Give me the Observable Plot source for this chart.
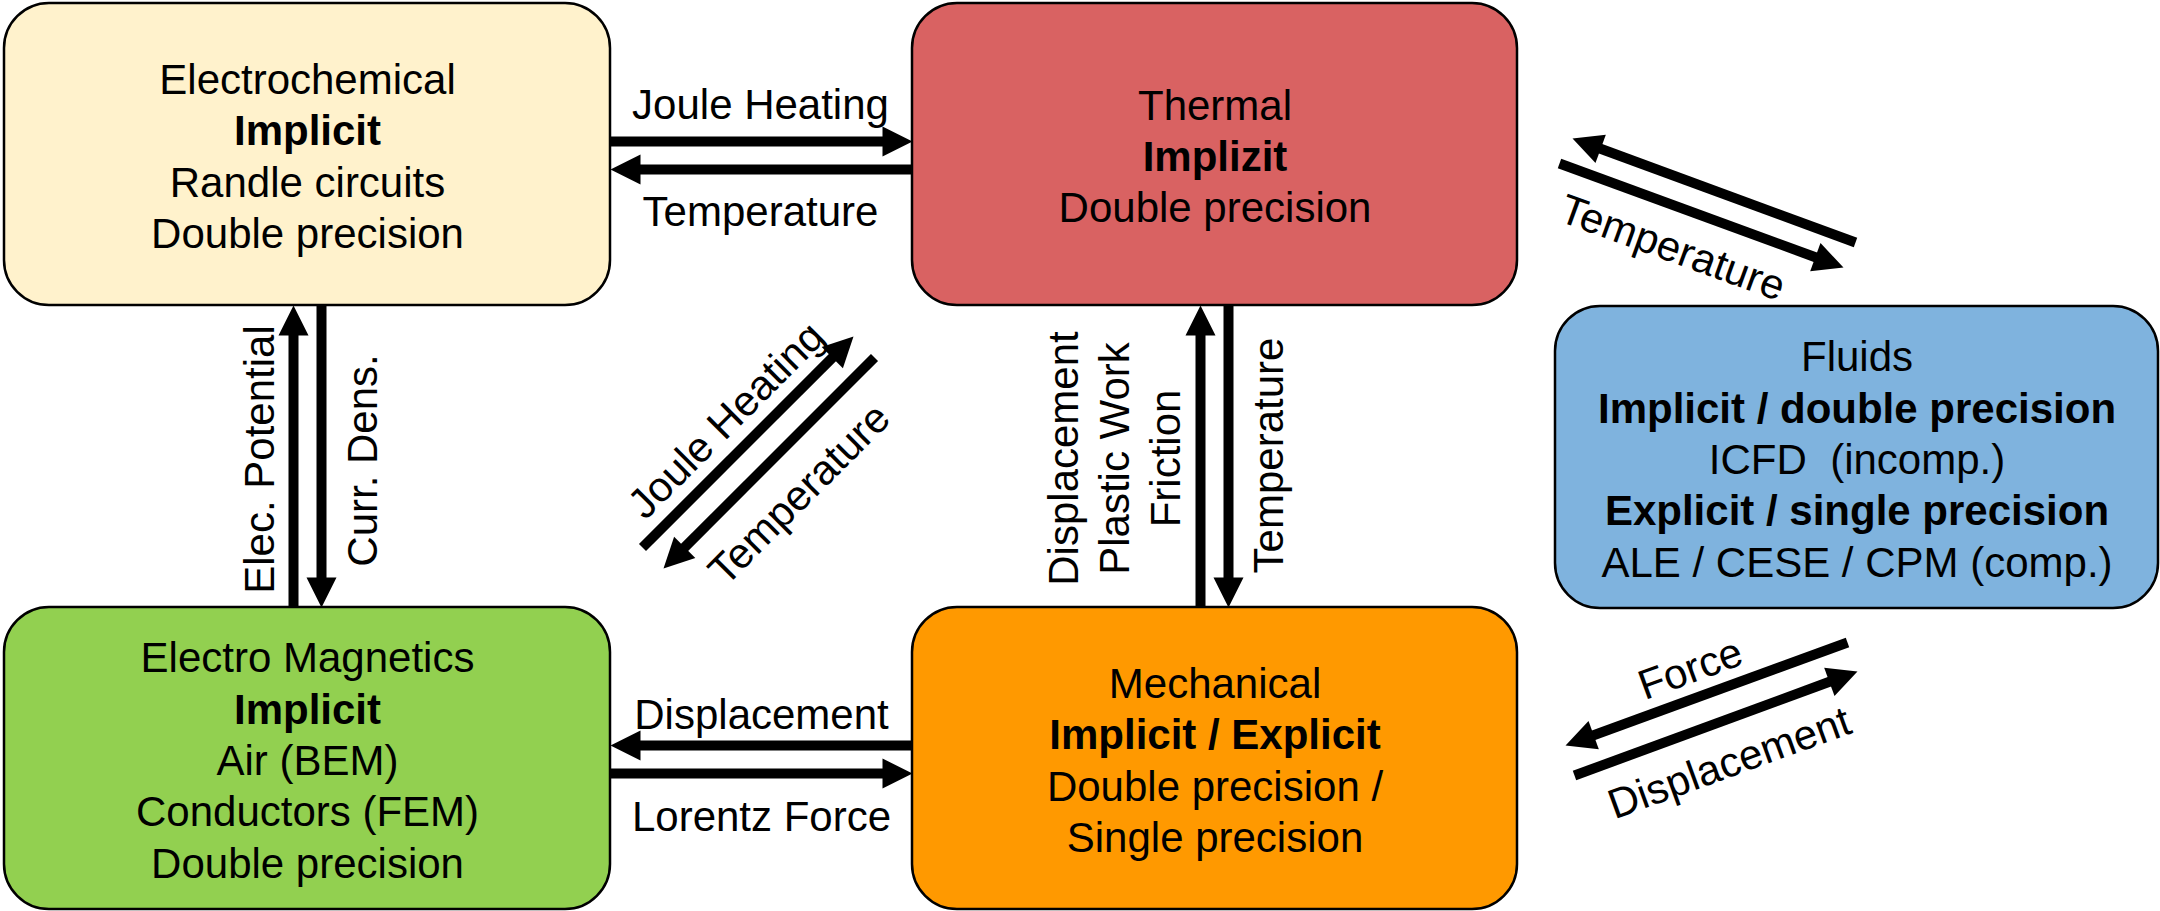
<!DOCTYPE html>
<html>
<head>
<meta charset="utf-8">
<script src="https://cdn.jsdelivr.net/npm/d3@7"></script>
<script src="https://cdn.jsdelivr.net/npm/@observablehq/plot@0.6"></script>
<style>
  html, body { margin: 0; padding: 0; background: #ffffff; }
  svg { display: block; }
</style>
</head>
<body>
<div id="chart"></div>
<script>
// ---------------- data ----------------
const boxIds = ["Electrochemical", "Thermal", "Fluids", "Electro Magnetics", "Mechanical"];

const electrochemicalLines = ["Electrochemical", "Implicit", "Randle circuits", "Double precision"];
const electrochemicalBold  = [0, 1, 0, 0];
const thermalLines = ["Thermal", "Implizit", "Double precision"];
const thermalBold  = [0, 1, 0];
const fluidsLines = ["Fluids", "Implicit / double precision", "ICFD  (incomp.)", "Explicit / single precision", "ALE / CESE / CPM (comp.)"];
const fluidsBold  = [0, 1, 0, 1, 0];
const emLines = ["Electro Magnetics", "Implicit", "Air (BEM)", "Conductors (FEM)", "Double precision"];
const emBold  = [0, 1, 0, 0, 0];
const mechanicalLines = ["Mechanical", "Implicit / Explicit", "Double precision /", "Single precision"];
const mechanicalBold  = [0, 1, 0, 0];

const couplingFrom = ["Electrochemical", "Thermal", "Mechanical", "Electro Magnetics",
  "Electro Magnetics", "Electrochemical", "Mechanical", "Thermal",
  "Electro Magnetics", "Thermal", "Fluids", "Thermal", "Fluids", "Mechanical"];
const couplingTo = ["Thermal", "Electrochemical", "Electro Magnetics", "Mechanical",
  "Electrochemical", "Electro Magnetics", "Thermal", "Mechanical",
  "Thermal", "Electro Magnetics", "Thermal", "Fluids", "Mechanical", "Fluids"];
const couplingLabels = ["Joule Heating", "Temperature", "Displacement", "Lorentz Force",
  "Elec. Potential", "Curr. Dens.", "Displacement\nPlastic Work\nFriction", "Temperature",
  "Joule Heating", "Temperature", "", "Temperature", "Force", "Displacement"];

// ---------------- layout (diagram coordinates) ----------------
const W = 2160, H = 911;
const boxLeft   = [4, 912, 1555, 4, 912];
const boxRight  = [610, 1517, 2158, 610, 1517];
const boxTop    = [3, 3, 306, 607, 607];
const boxBottom = [305, 305, 608, 909, 909];
const boxFill   = ["#fff2cc", "#d96262", "#7fb3de", "#92d050", "#ff9900"];

const arrowX1 = [610, 912, 912, 610, 293, 321, 1200, 1228, 642, 874, 1855, 1559, 1847, 1574];
const arrowY1 = [141, 169, 745, 773, 607, 305, 607, 305, 547, 357, 242, 163, 642, 775];
const arrowX2 = [912, 610, 610, 912, 293, 321, 1200, 1228, 853, 663, 1572, 1843, 1565, 1857];
const arrowY2 = [141, 169, 745, 773, 305, 607, 305, 607, 336, 568, 138, 267, 745, 671];

const labelX = [760, 760, 761, 761, 257, 360, 1112, 1266, 724, 797, 0, 1673, 1689, 1728];
const labelY = [102, 209, 712, 814, 459, 460, 458, 455, 418, 492, 0, 245, 666, 760];
const labelRotate = [0, 0, 0, 0, -90, -90, -90, -90, -45, -45, 0, 20, -20, -20];

// ---------------- derived tables ----------------
const allLines = [electrochemicalLines, thermalLines, fluidsLines, emLines, mechanicalLines];
const allBold = [electrochemicalBold, thermalBold, fluidsBold, emBold, mechanicalBold];
const LINE_STEP = 51.3;
const FONT = 42;

const boxes = boxIds.map((id, i) => ({
  id, x1: boxLeft[i], x2: boxRight[i], y1: boxTop[i], y2: boxBottom[i], fill: boxFill[i]
}));

const textLines = [];
boxes.forEach((b, i) => {
  const L = allLines[i], B = allBold[i], n = L.length;
  const cx = (b.x1 + b.x2) / 2, cy = (b.y1 + b.y2) / 2 + 3;
  L.forEach((t, j) => textLines.push({ text: t, bold: !!B[j], x: cx, y: cy + (j - (n - 1) / 2) * LINE_STEP }));
});

const HEAD_L = 30, HEAD_W = 30;
const arrows = couplingLabels.map((label, i) => {
  const x1 = arrowX1[i], y1 = arrowY1[i], x2 = arrowX2[i], y2 = arrowY2[i];
  const dx = x2 - x1, dy = y2 - y1, len = Math.hypot(dx, dy);
  const ux = dx / len, uy = dy / len;
  return {
    from: couplingFrom[i], to: couplingTo[i], label,
    x1, y1, x2, y2,
    sx2: x2 - ux * (HEAD_L - 3), sy2: y2 - uy * (HEAD_L - 3),
    angle: Math.atan2(dx, -dy) * 180 / Math.PI,
    lx: labelX[i], ly: labelY[i], lr: labelRotate[i]
  };
});

// filled triangular arrow head, tip at origin, pointing "up"
const headSymbol = {
  draw(ctx) {
    ctx.moveTo(0, 0);
    ctx.lineTo(HEAD_W / 2, HEAD_L);
    ctx.lineTo(-HEAD_W / 2, HEAD_L);
    ctx.closePath();
  }
};

const fontFamily = "'Liberation Sans', Arial, Helvetica, sans-serif";

const chart = Plot.plot({
  width: W,
  height: H,
  margin: 0,
  x: { domain: [0, W], range: [0, W], axis: null },
  y: { domain: [0, H], range: [0, H], axis: null },
  style: { fontFamily, background: "#ffffff", color: "black" },
  marks: [
    Plot.rect(boxes, {
      x1: "x1", x2: "x2", y1: "y1", y2: "y2",
      fill: "fill", stroke: "black", strokeWidth: 2.5, rx: 45, ry: 45
    }),
    Plot.text(textLines.filter(d => !d.bold), {
      x: "x", y: "y", text: "text", fontSize: FONT, fontFamily, fill: "black"
    }),
    Plot.text(textLines.filter(d => d.bold), {
      x: "x", y: "y", text: "text", fontSize: FONT, fontFamily, fontWeight: "bold", fill: "black"
    }),
    Plot.link(arrows, {
      x1: "x1", y1: "y1", x2: "sx2", y2: "sy2",
      stroke: "black", strokeWidth: 10, strokeLinecap: "butt"
    }),
    Plot.dot(arrows, {
      x: "x2", y: "y2", symbol: headSymbol, rotate: "angle",
      fill: "black", stroke: "none", r: 5
    }),
    Plot.text(arrows.filter(d => d.label), {
      x: "lx", y: "ly", text: "label", rotate: "lr",
      fontSize: FONT, fontFamily, lineHeight: LINE_STEP / FONT, fill: "black"
    })
  ]
});

document.getElementById("chart").appendChild(chart);
</script>
</body>
</html>
